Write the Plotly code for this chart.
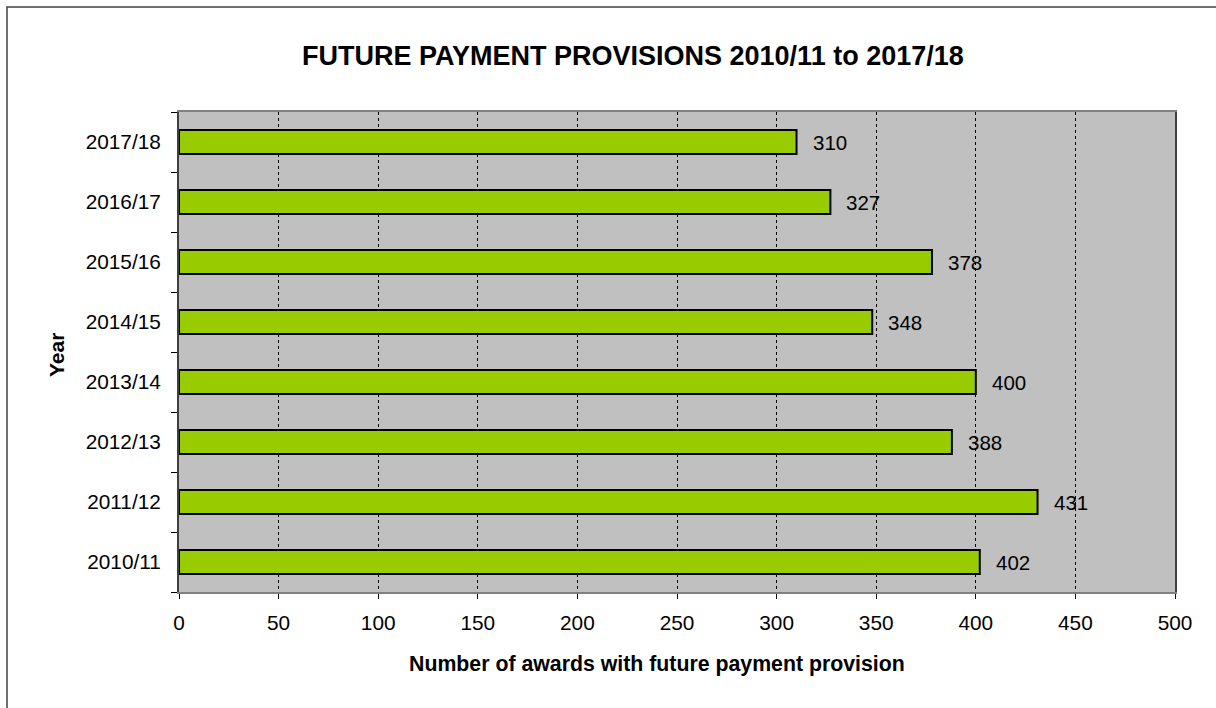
import plotly.graph_objects as go

years = ["2010/11", "2011/12", "2012/13", "2013/14", "2014/15", "2015/16", "2016/17", "2017/18"]
awards = [402, 431, 388, 400, 348, 378, 327, 310]
x_ticks = [0, 50, 100, 150, 200, 250, 300, 350, 400, 450, 500]

FONT = "Liberation Sans, Arial, sans-serif"

fig = go.Figure()
fig.add_trace(go.Bar(
    y=years, x=awards, orientation="h",
    marker=dict(color="#99CC00", line=dict(color="black", width=2)),
    width=0.4,
    hoverinfo="x+y",
))

for y, v in zip(years, awards):
    fig.add_annotation(x=v, y=y, text=str(v), showarrow=False, xanchor="left",
                       xshift=14, font=dict(family=FONT, size=20.5, color="black"))

L, R, T, B = 179, 41, 112, 116
W, H = 1216, 708
pw, ph = W - L - R, H - T - B

def px2paper_x(px):
    return (px - L) / pw

def px2paper_y(py):
    return (H - B - py) / ph

fig.add_shape(type="rect", xref="paper", yref="paper",
              x0=px2paper_x(7), x1=px2paper_x(1240), y0=px2paper_y(7), y1=px2paper_y(730),
              line=dict(color="#404040", width=1.5), fillcolor="rgba(0,0,0,0)", layer="below")

# Titles as annotations at measured positions
fig.add_annotation(xref="paper", yref="paper", x=px2paper_x(633), y=px2paper_y(56),
                   text="<b>FUTURE PAYMENT PROVISIONS 2010/11 to 2017/18</b>", showarrow=False,
                   xanchor="center", yanchor="middle",
                   font=dict(family=FONT, size=27, color="black"))
fig.add_annotation(xref="paper", yref="paper", x=px2paper_x(657), y=px2paper_y(664),
                   text="<b>Number of awards with future payment provision</b>", showarrow=False,
                   xanchor="center", yanchor="middle",
                   font=dict(family=FONT, size=21.3, color="black"))
fig.add_annotation(xref="paper", yref="paper", x=px2paper_x(56), y=px2paper_y(355),
                   text="<b>Year</b>", showarrow=False, textangle=-90,
                   xanchor="center", yanchor="middle",
                   font=dict(family=FONT, size=21, color="black"))

fig.update_layout(
    width=W, height=H,
    margin=dict(l=L, r=R, t=T, b=B),
    paper_bgcolor="white",
    plot_bgcolor="#C0C0C0",
    showlegend=False,
    font=dict(family=FONT, size=20, color="black"),
    xaxis=dict(range=[0, 500], tickvals=x_ticks, ticks="outside", ticklen=5,
               tickcolor="black", showline=True, linecolor="#808080", linewidth=2,
               mirror=True,
               showgrid=True, gridcolor="black", griddash="dot", gridwidth=1,
               zeroline=False, ticklabelstandoff=6,
               tickfont=dict(size=20.8)),
    yaxis=dict(ticks="outside", ticklen=6, tickcolor="black", tickson="boundaries",
               showline=True, linecolor="#404040", linewidth=2, mirror=True,
               showgrid=False, tickfont=dict(size=20.8), ticklabelstandoff=12),
    bargap=0.6,
)

fig.write_html("out.html")
